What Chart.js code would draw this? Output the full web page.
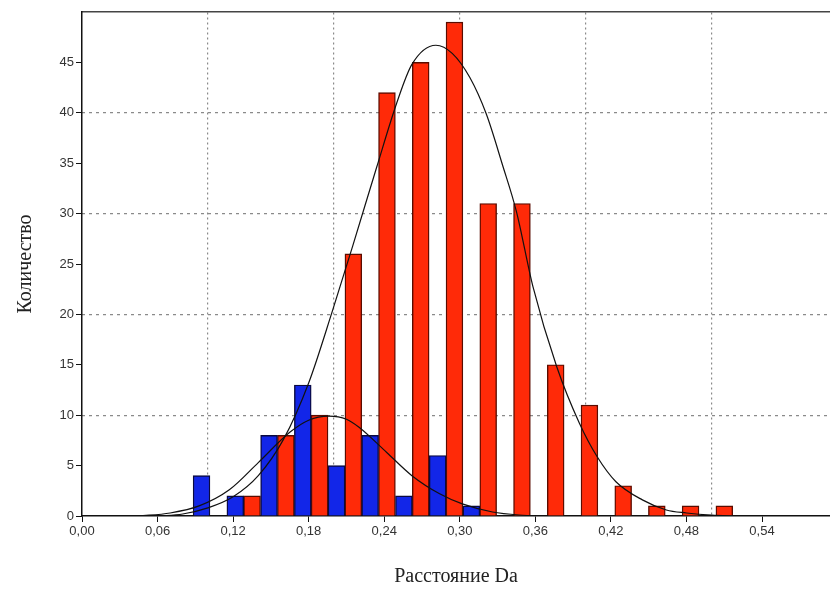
<!DOCTYPE html>
<html>
<head>
<meta charset="utf-8">
<script src="https://cdn.jsdelivr.net/npm/chart.js@4"></script>
<style>
  html, body { margin: 0; padding: 0; background: #fff; }
  #wrap { width: 830px; height: 594px; }
</style>
</head>
<body>
<div id="wrap"><canvas id="chart"></canvas></div>
<script>
// bin centres (Da) and counts per bin
const binCenters = [0.1016, 0.1284, 0.1552, 0.1820, 0.2088, 0.2355, 0.2623, 0.2891,
    0.3159, 0.3427, 0.3695, 0.3963, 0.4231, 0.4498, 0.4766, 0.5034];
const blueCounts = [4, 2, 8, 13, 5, 8, 2, 6, 1, null, null, null, null, null, null, null];
const redCounts = [null, 2, 8, 10, 26, 42, 45, 49, 31, 31, 15, 11, 3, 1, 1, 1];

// fitted curves
const blueCurveX = [0.045, 0.07, 0.093, 0.117, 0.14, 0.165, 0.18, 0.196, 0.21, 0.22,
    0.242, 0.262, 0.284, 0.302, 0.326, 0.347, 0.37];
const blueCurveY = [0, 0.3, 1.0, 2.6, 5.3, 8.3, 9.5, 9.9, 9.6, 8.8,
    6.3, 4.0, 2.2, 1.2, 0.4, 0.1, 0];
const redCurveX = [0.06, 0.08, 0.1, 0.12, 0.14, 0.16, 0.18, 0.199, 0.215, 0.234, 0.25,
    0.262, 0.281, 0.294, 0.308, 0.321, 0.334, 0.345, 0.358, 0.377, 0.395, 0.409,
    0.424, 0.445, 0.464, 0.48, 0.5, 0.52];
const redCurveY = [0, 0.2, 0.8, 1.9, 4.0, 7.6, 13.2, 20.4, 26.8, 34.6, 41.0,
    44.8, 46.7, 45.9, 43.5, 39.9, 34.8, 30.2, 22.8, 14.8, 9.2, 5.9,
    3.4, 1.6, 0.6, 0.3, 0.08, 0];

const yTicks = [0, 5, 10, 15, 20, 25, 30, 35, 40, 45];
const xTicks = [0, 0.06, 0.12, 0.18, 0.24, 0.30, 0.36, 0.42, 0.48, 0.54];
const xGridLines = [0.1, 0.2, 0.3, 0.4, 0.5];
const yGridLines = [10, 20, 30, 40];

const xMax = 0.594;
const yMax = 50;

const toPoints = (xs, ys) => xs.map((x, i) => ({ x: x, y: ys[i] }));

const ctx = document.querySelector('#chart').getContext('2d');

new Chart(ctx, {
    type: 'bar',
    data: {
        datasets: [
            {
                type: 'line',
                data: toPoints(redCurveX, redCurveY),
                borderColor: '#111',
                borderWidth: 1.2,
                pointRadius: 0,
                cubicInterpolationMode: 'monotone',
                xAxisID: 'x',
                yAxisID: 'y',
                order: 0
            },
            {
                type: 'line',
                data: toPoints(blueCurveX, blueCurveY),
                borderColor: '#111',
                borderWidth: 1.2,
                pointRadius: 0,
                cubicInterpolationMode: 'monotone',
                xAxisID: 'x',
                yAxisID: 'y',
                order: 0
            },
            {
                data: toPoints(binCenters, blueCounts),
                backgroundColor: '#1226e8',
                borderColor: '#0a0a40',
                borderWidth: 1.4,
                borderSkipped: 'start',
                categoryPercentage: 1,
                barPercentage: 1,
                xAxisID: 'x',
                yAxisID: 'y',
                order: 1
            },
            {
                data: toPoints(binCenters, redCounts),
                backgroundColor: '#ff2a08',
                borderColor: '#5a0c00',
                borderWidth: 1.4,
                borderSkipped: 'start',
                categoryPercentage: 1,
                barPercentage: 1,
                xAxisID: 'x',
                yAxisID: 'y',
                order: 1
            }
        ]
    },
    options: {
        responsive: true,
        maintainAspectRatio: false,
        animation: false,
        layout: { padding: { top: 12, right: 0, left: 0, bottom: 0 } },
        plugins: {
            legend: { display: false },
            tooltip: { enabled: false }
        },
        scales: {
            x: {
                type: 'linear',
                position: 'bottom',
                min: 0,
                max: xMax,
                offset: false,
                afterBuildTicks: s => { s.ticks = xTicks.map(v => ({ value: v })); },
                afterFit: s => { s.height = 78; },
                ticks: {
                    color: '#333',
                    font: { family: 'Liberation Sans, Arial', size: 13 },
                    padding: 2,
                    maxRotation: 0,
                    autoSkip: false,
                    callback: v => v.toFixed(2).replace('.', ',')
                },
                grid: {
                    offset: false,
                    drawOnChartArea: false,
                    drawTicks: true,
                    tickLength: 6,
                    tickColor: '#111'
                },
                border: { display: true, color: '#111', width: 1.5 },
                title: {
                    display: true,
                    text: 'Расстояние Da',
                    color: '#222',
                    font: { family: 'Liberation Serif, Times New Roman', size: 20 },
                    padding: { top: 0, bottom: 5 }
                }
            },
            xGrid: {
                type: 'linear',
                position: 'top',
                min: 0,
                max: xMax,
                offset: false,
                afterBuildTicks: s => { s.ticks = xGridLines.map(v => ({ value: v })); },
                afterFit: s => { s.height = 0; },
                ticks: { display: false },
                grid: {
                    offset: false,
                    drawTicks: false,
                    color: '#8a8a8a',
                    lineWidth: 1.2
                },
                border: { display: true, color: '#444', width: 1.5, dash: [2, 3] }
            },
            y: {
                type: 'linear',
                position: 'left',
                min: 0,
                max: yMax,
                afterBuildTicks: s => { s.ticks = yTicks.map(v => ({ value: v })); },
                afterFit: s => { s.width = 82; },
                ticks: {
                    color: '#333',
                    font: { family: 'Liberation Sans, Arial', size: 13 },
                    padding: 2
                },
                grid: {
                    drawOnChartArea: false,
                    drawTicks: true,
                    tickLength: 6,
                    tickColor: '#111'
                },
                border: { display: true, color: '#111', width: 1.5 },
                title: {
                    display: true,
                    text: 'Количество',
                    color: '#222',
                    font: { family: 'Liberation Serif, Times New Roman', size: 20 },
                    padding: { top: 14, bottom: 0 }
                }
            },
            yGrid: {
                type: 'linear',
                position: 'right',
                min: 0,
                max: yMax,
                afterBuildTicks: s => { s.ticks = yGridLines.map(v => ({ value: v })); },
                afterFit: s => { s.width = 0; },
                ticks: { display: false },
                grid: {
                    drawTicks: false,
                    color: '#8a8a8a',
                    lineWidth: 1.2
                },
                border: { display: false, dash: [3, 4] }
            }
        }
    }
});
</script>
</body>
</html>
